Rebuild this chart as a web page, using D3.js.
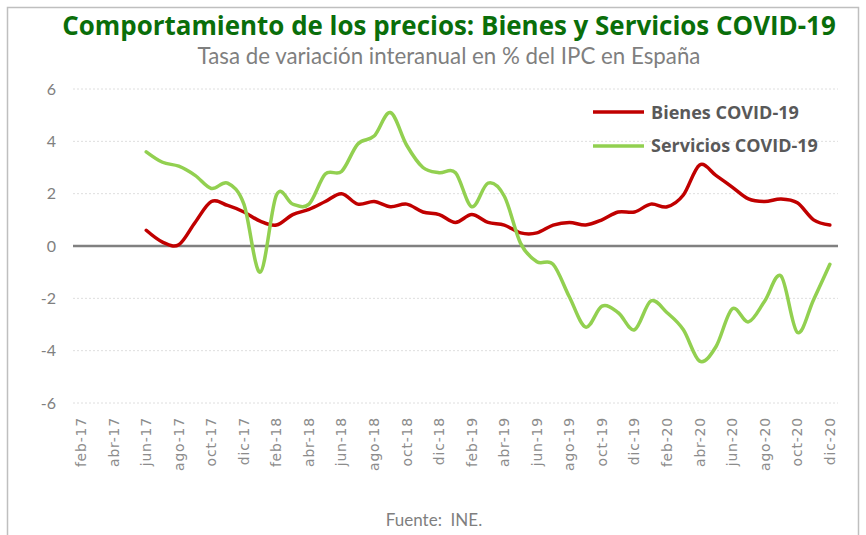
<!DOCTYPE html>
<html>
<head>
<meta charset="utf-8">
<script src="https://cdn.jsdelivr.net/npm/d3@7"></script>
<style>
  body { margin: 0; background: #fff; }
  svg { display: block; }
</style>
</head>
<body>
<script>
// meses del eje (feb-17 .. dic-20)
var meses = ["feb-17","mar-17","abr-17","may-17","jun-17","jul-17","ago-17","sep-17","oct-17","nov-17","dic-17",
  "ene-18","feb-18","mar-18","abr-18","may-18","jun-18","jul-18","ago-18","sep-18","oct-18","nov-18","dic-18",
  "ene-19","feb-19","mar-19","abr-19","may-19","jun-19","jul-19","ago-19","sep-19","oct-19","nov-19","dic-19",
  "ene-20","feb-20","mar-20","abr-20","may-20","jun-20","jul-20","ago-20","sep-20","oct-20","nov-20","dic-20"];

// etiquetas visibles (cada dos meses)
var etiquetas = meses.filter(function(d, i) { return i % 2 === 0; });

// series (jun-17 .. dic-20), feb-may 17 sin dato
var bienes = [null, null, null, null,
  0.6, 0.15, 0.05, 0.9, 1.7, 1.55, 1.3,
  0.95, 0.8, 1.2, 1.4, 1.7, 2.0, 1.6, 1.7, 1.5, 1.6, 1.3, 1.2,
  0.9, 1.2, 0.9, 0.8, 0.5, 0.5, 0.8, 0.9, 0.8, 1.0, 1.3, 1.3,
  1.6, 1.5, 1.95, 3.1, 2.7, 2.25, 1.8, 1.7, 1.8, 1.65, 1.0, 0.8];

var servicios = [null, null, null, null,
  3.6, 3.2, 3.05, 2.7, 2.2, 2.4, 1.6,
  -1.0, 1.95, 1.6, 1.6, 2.75, 2.85, 3.9, 4.2, 5.1, 3.85, 3.0, 2.8,
  2.8, 1.5, 2.4, 1.9, 0.1, -0.6, -0.7, -1.95, -3.1, -2.3, -2.55, -3.2,
  -2.1, -2.55, -3.2, -4.4, -3.85, -2.4, -2.9, -2.1, -1.15, -3.3, -2.05, -0.7];

var yTicks = [-6, -4, -2, 0, 2, 4, 6];

var series = [
  {name: "Bienes COVID-19", values: bienes, color: "#c00000"},
  {name: "Servicios COVID-19", values: servicios, color: "#92d050"}
];

var width = 866, height = 535;
var margin = {top: 89, right: 28, bottom: 132, left: 73};

var svg = d3.select("body").append("svg")
    .attr("width", width)
    .attr("height", height);

// marco
svg.append("rect")
    .attr("x", 7.5).attr("y", 7.5)
    .attr("width", 851).attr("height", 540)
    .attr("fill", "none")
    .attr("stroke", "#bfbfbf")
    .attr("stroke-width", 1.5);

var x = d3.scaleBand().domain(meses).range([margin.left, width - margin.right]).padding(0);
var y = d3.scaleLinear().domain([-6, 6]).range([height - margin.bottom, margin.top]);
var cx = function(m) { return x(m) + x.bandwidth() / 2; };

// ajusta el tamaño de fuente para ocupar un ancho dado
function fit(sel, size, w) {
  sel.attr("font-size", size);
  var len = sel.node().getComputedTextLength();
  sel.attr("font-size", size * w / len);
}

// titulo
var title = svg.append("text")
    .attr("x", 449).attr("y", 35)
    .attr("text-anchor", "middle")
    .attr("font-family", "'Open Sans', Lato, sans-serif")
    .attr("font-weight", "bold")
    .attr("fill", "#0a6e0a")
    .text("Comportamiento de los precios: Bienes y Servicios COVID-19");
fit(title, 24, 774);

var sub = svg.append("text")
    .attr("x", 449).attr("y", 64)
    .attr("text-anchor", "middle")
    .attr("font-family", "Lato, 'Open Sans', sans-serif")
    .attr("fill", "#7f7f7f")
    .text("Tasa de variación interanual en % del IPC en España");
fit(sub, 19, 503);

// rejilla
svg.append("g")
  .selectAll("line")
  .data(yTicks.filter(function(d) { return d !== 0; }))
  .join("line")
    .attr("x1", margin.left).attr("x2", width - margin.right)
    .attr("y1", function(d) { return y(d); })
    .attr("y2", function(d) { return y(d); })
    .attr("stroke", "#dedede")
    .attr("stroke-dasharray", "2,2")
    .attr("stroke-width", 1);

// eje Y
svg.append("g")
  .selectAll("text")
  .data(yTicks)
  .join("text")
    .attr("x", 56)
    .attr("y", function(d) { return y(d); })
    .attr("dy", "0.36em")
    .attr("text-anchor", "end")
    .attr("font-family", "Lato, sans-serif")
    .attr("font-size", 16)
    .attr("fill", "#808080")
    .text(function(d) { return d; });

// linea del cero
svg.append("line")
    .attr("x1", margin.left).attr("x2", width - margin.right)
    .attr("y1", y(0)).attr("y2", y(0))
    .attr("stroke", "#808080")
    .attr("stroke-width", 2.4);

// eje X
svg.append("g")
  .selectAll("text")
  .data(etiquetas)
  .join("text")
    .attr("transform", function(d) { return "translate(" + cx(d) + ",417) rotate(-90)"; })
    .attr("dy", "0.35em")
    .attr("text-anchor", "end")
    .attr("font-family", "'DejaVu Sans', sans-serif")
    .attr("font-size", 14)
    .attr("letter-spacing", 0.8)
    .attr("fill", "#8c8c8c")
    .text(function(d) { return d; });

// lineas
var line = d3.line()
    .defined(function(d) { return d.v !== null; })
    .x(function(d) { return cx(d.m); })
    .y(function(d) { return y(d.v); })
    .curve(d3.curveCatmullRom.alpha(0));

series.forEach(function(s) {
  var data = meses.map(function(m, i) { return {m: m, v: s.values[i]}; });
  svg.append("path")
      .datum(data)
      .attr("fill", "none")
      .attr("stroke", s.color)
      .attr("stroke-width", 3.5)
      .attr("stroke-linecap", "round")
      .attr("stroke-linejoin", "round")
      .attr("d", line);
});

// leyenda
var leg = svg.append("g");
series.forEach(function(s, i) {
  var ly = 112 + i * 34;
  leg.append("line")
      .attr("x1", 593).attr("x2", 644)
      .attr("y1", ly).attr("y2", ly)
      .attr("stroke", s.color)
      .attr("stroke-width", 3.5);
  var t = leg.append("text")
      .attr("x", 651).attr("y", ly)
      .attr("dy", "0.36em")
      .attr("font-family", "'Open Sans', sans-serif")
      .attr("font-weight", "bold")
      .attr("fill", "#595959")
      .text(s.name);
  fit(t, 17, i === 0 ? 148 : 167);
});

// fuente
svg.append("text")
    .attr("x", 434).attr("y", 526)
    .attr("text-anchor", "middle")
    .attr("font-family", "Lato, sans-serif")
    .attr("font-size", 17)
    .attr("fill", "#7f7f7f")
    .attr("xml:space", "preserve")
    .text("Fuente:  INE.");
</script>
</body>
</html>
